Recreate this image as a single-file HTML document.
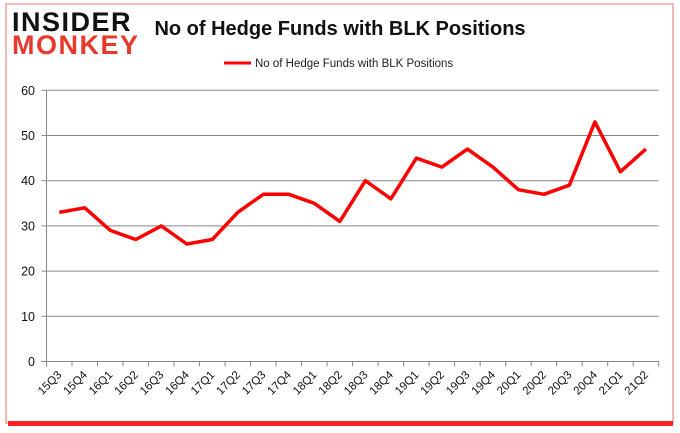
<!DOCTYPE html>
<html><head><meta charset="utf-8"><style>
body{margin:0;background:#fff;}
#wrap{position:relative;width:680px;height:433px;overflow:hidden;background:#fff;font-family:"Liberation Sans",sans-serif;}
</style></head><body>
<div id="wrap">
<svg id="chart" width="680" height="433">
  <rect x="6" y="4" width="667" height="419" fill="#fff" stroke="#f0a0a0" stroke-width="1.5"/>
  <rect x="8" y="421" width="665" height="5" fill="#ff0000" opacity="0.85"/>
  <text x="12" y="31" font-size="27" font-weight="bold" fill="#111" letter-spacing="1.5" font-family="Liberation Sans, sans-serif">INSIDER</text>
  <text x="12" y="54" font-size="27" font-weight="bold" fill="#e8392b" letter-spacing="1.5" font-family="Liberation Sans, sans-serif">MONKEY</text>
  <text x="340" y="35" text-anchor="middle" font-size="20" font-weight="bold" fill="#111">No of Hedge Funds with BLK Positions</text>
  <line x1="224" y1="63" x2="251" y2="63" stroke="#ff0000" stroke-width="3"/>
  <text x="255" y="67" font-size="11.5" fill="#222">No of Hedge Funds with BLK Positions</text>
  <g id="grid"></g><g id="axes"></g><g id="series"></g>
</svg>
</div>
<script>
const categories=["15Q3","15Q4","16Q1","16Q2","16Q3","16Q4","17Q1","17Q2","17Q3","17Q4","18Q1","18Q2","18Q3","18Q4","19Q1","19Q2","19Q3","19Q4","20Q1","20Q2","20Q3","20Q4","21Q1","21Q2"];
const values=[33,34,29,27,30,26,27,33,37,37,35,31,40,36,45,43,47,43,38,37,39,53,42,47];
const yTicks=[0,10,20,30,40,50,60];
const NS="http://www.w3.org/2000/svg";
const L=46.5,R=658.7,T=90.3,B=361.5,yMax=60;
const step=(R-L)/categories.length;
function xPos(i){return L+step*(i+0.5);}
function yPos(v){return B-(v/yMax)*(B-T);}
function mk(tag,attrs,parent){const e=document.createElementNS(NS,tag);for(const k in attrs)e.setAttribute(k,attrs[k]);parent.appendChild(e);return e;}
const grid=document.getElementById('grid'),axes=document.getElementById('axes'),series=document.getElementById('series');
yTicks.forEach(t=>{
  const y=yPos(t);
  if(t>0){const g=mk('line',{x1:L,x2:R,y1:y,y2:y,stroke:'#888','stroke-width':1},grid);
    
    }
  const tk=mk('line',{x1:L-5,x2:L,y1:y,y2:y,stroke:'#888'},axes);
  
  
  const tx=mk('text',{x:35,y:y+4.5,'text-anchor':'end','font-size':12.5,fill:'#111'},axes);
  tx.textContent=t;
  
  
});
const ya=mk('line',{x1:L,x2:L,y1:T,y2:B,stroke:'#888'},axes);


const xa=mk('line',{x1:L,x2:R,y1:B,y2:B,stroke:'#888'},axes);


for(let i=0;i<=categories.length;i++){
  const x=L+step*i;
  const tk=mk('line',{x1:x,x2:x,y1:B,y2:B+5,stroke:'#888'},axes);
  
  
}
categories.forEach((c,i)=>{
  const x=xPos(i)+3,y=B+14;
  const tx=mk('text',{x:x,y:y,'text-anchor':'end','font-size':11.5,fill:'#111',transform:`rotate(-45 ${x} ${y})`},axes);
  tx.textContent=c;
  
  
});
const pts=values.map((v,i)=>xPos(i).toFixed(1)+','+yPos(v).toFixed(1)).join(' ');
const pl=mk('polyline',{points:pts,fill:'none',stroke:'#ff0000','stroke-width':3.5,'stroke-linejoin':'round'},series);


</script>
</body></html>
